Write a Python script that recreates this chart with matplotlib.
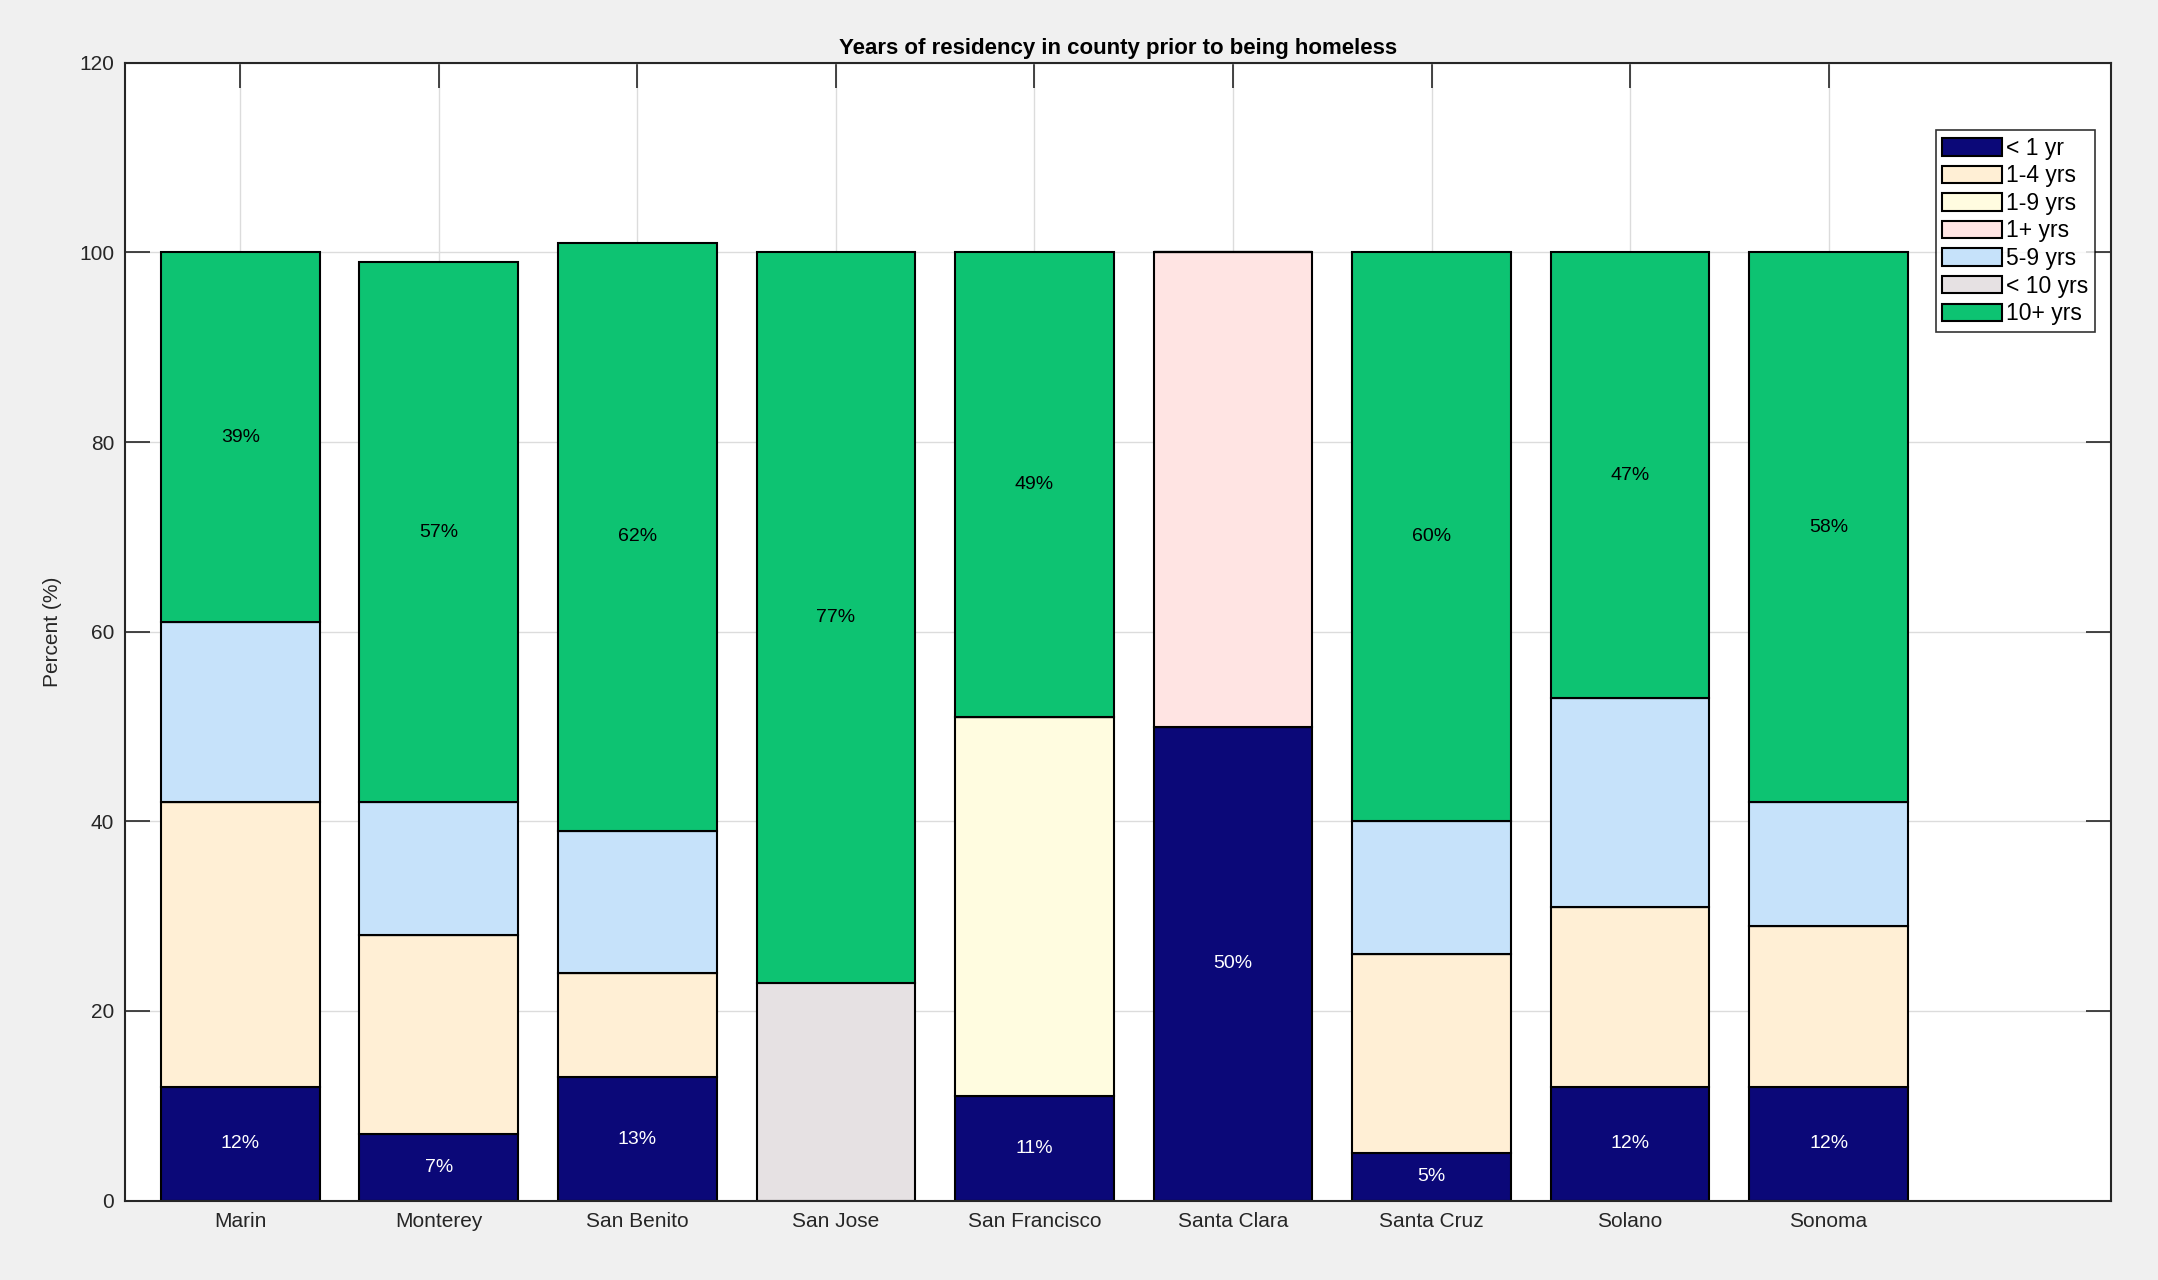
import matplotlib
matplotlib.use('Agg')
import matplotlib.pyplot as plt
import numpy as np

plt.rcParams['font.family'] = ['Liberation Sans', 'DejaVu Sans']

counties = ['Marin', 'Monterey', 'San Benito', 'San Jose', 'San Francisco',
            'Santa Clara', 'Santa Cruz', 'Solano', 'Sonoma']
categories = ['< 1 yr', '1-4 yrs', '1-9 yrs', '1+ yrs', '5-9 yrs', '< 10 yrs', '10+ yrs']
colors = ['#0b0878', '#ffefd5', '#fffce0', '#ffe4e3', '#c6e2fa', '#e6e1e3', '#0dc372']

# percent per county, one list per category (same order as counties)
lt1 = [12, 7, 13, 0, 11, 50, 5, 12, 12]
y1_4 = [30, 21, 11, 0, 0, 0, 21, 19, 17]
y1_9 = [0, 0, 0, 0, 40, 0, 0, 0, 0]
y1plus = [0, 0, 0, 0, 0, 50, 0, 0, 0]
y5_9 = [19, 14, 15, 0, 0, 0, 14, 22, 13]
lt10 = [0, 0, 0, 23, 0, 0, 0, 0, 0]
y10plus = [39, 57, 62, 77, 49, 0, 60, 47, 58]
series = [lt1, y1_4, y1_9, y1plus, y5_9, lt10, y10plus]

fig = plt.figure(figsize=(21.58, 12.8), dpi=100, facecolor='#f0f0f0')
ax = fig.add_axes([0.058, 0.062, 0.920, 0.889])
ax.set_axisbelow(True)

x = np.arange(1, len(counties) + 1)
bottom = np.zeros(len(counties))
for name, vals, col in zip(categories, series, colors):
    vals = np.array(vals, dtype=float)
    ax.bar(x, vals, 0.8, bottom=bottom, color=col, edgecolor='black',
           linewidth=1.5, label=name)
    bottom += vals

# percentage labels on "< 1 yr" and "10+ yrs" segments
for i in range(len(counties)):
    if lt1[i] > 0:
        ax.text(x[i], lt1[i] / 2, '%d%%' % lt1[i], color='white', ha='center',
                va='center', fontsize=14)
    if y10plus[i] > 0:
        ax.text(x[i], bottom[i] - y10plus[i] / 2, '%d%%' % y10plus[i],
                color='black', ha='center', va='center', fontsize=14)

ax.set_xlim(0.42, 10.42)
ax.set_ylim(0, 120)
ax.set_xticks(x)
ax.set_xticklabels(counties)
ax.set_yticks(np.arange(0, 121, 20))
ax.grid(True, color='#dcdcdc', linewidth=1)
ax.tick_params(direction='in', length=18, width=1.2, top=True, right=True,
               labelsize=15, colors='#262626', pad=8)
for s in ax.spines.values():
    s.set_linewidth(1.5)
    s.set_color('#262626')

ax.set_ylabel('Percent (%)', fontsize=15, color='#262626', labelpad=12)
ax.set_title('Years of residency in county prior to being homeless',
             fontsize=16, fontweight='bold', pad=6)

leg = ax.legend(loc='upper right', bbox_to_anchor=(0.992, 0.941), fontsize=16.5,
                frameon=True, fancybox=False, edgecolor='black',
                handlelength=2.6, handleheight=0.8, handletextpad=0.15,
                labelspacing=0.2, borderpad=0.3, borderaxespad=0)
leg.get_frame().set_linewidth(1.2)

fig.savefig('out.png', dpi=100, facecolor=fig.get_facecolor())
